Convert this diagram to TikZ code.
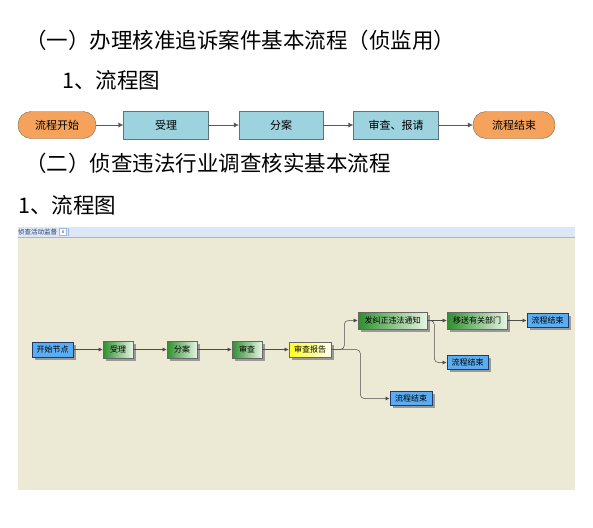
\documentclass[tikz,border=0pt]{standalone}
\usepackage{fontspec}
\setmainfont{Noto Sans CJK SC}
\usetikzlibrary{arrows.meta,shadows}
\definecolor{orangeF}{HTML}{F5A25D}
\definecolor{orangeD}{HTML}{7A6650}
\definecolor{tealF}{HTML}{9DD3DF}
\definecolor{tealD}{HTML}{5C7378}
\definecolor{panelF}{HTML}{ECEAD4}
\definecolor{tabF}{HTML}{DDE8F7}
\definecolor{tabD}{HTML}{9DB7E0}
\definecolor{blueF}{HTML}{5AADF2}
\definecolor{blueD}{HTML}{233A66}
\definecolor{greenA}{HTML}{2F8F2F}
\definecolor{greenB}{HTML}{86CC86}
\definecolor{greenC}{HTML}{E6F5E3}
\definecolor{yelA}{HTML}{FFFF20}
\definecolor{yelB}{HTML}{FFFFF0}
\tikzset{
  head/.style={anchor=west, inner sep=0pt, font=\fontsize{21.5}{21.5}\selectfont},
  term/.style={draw=orangeD, fill=orangeF, rounded corners=13pt, minimum height=27pt,
    inner sep=0pt, font=\fontsize{11}{11}\selectfont},
  proc/.style={draw=tealD, fill=tealF, minimum height=28pt, inner sep=0pt,
    font=\fontsize{11}{11}\selectfont},
  lineA/.style={draw=black!65, -{Latex[length=5pt,width=5pt]}},
  shot/.style={inner sep=0pt, font=\fontsize{8}{8}\selectfont,
    drop shadow={shadow xshift=2.5pt, shadow yshift=-2.5pt, fill=black!40, opacity=1}},
  bluebox/.style={shot, draw=blueD, line width=0.9pt, fill=blueF},
  greenbox/.style={shot, draw=black!60, line width=0.6pt, left color=greenA, middle color=greenB, right color=greenC},
  yellowbox/.style={shot, draw=black!60, line width=0.6pt, left color=yelA, right color=yelB},
  lineB/.style={draw=black!70, line width=0.5pt, rounded corners=4pt, -{Latex[length=4pt,width=4pt]}}
}
\begin{document}
\begin{tikzpicture}[x=1pt,y=-1pt]
\useasboundingbox[fill=white] (0,0) rectangle (593,527);
% headings
\node[head] (h1) at (25,40) {（一）办理核准追诉案件基本流程（侦监用）};
\node[head] (h2) at (62,80) {1、流程图};
\node[head] (h3) at (25,163) {（二）侦查违法行业调查核实基本流程};
\node[head] (h4) at (18,205) {1、流程图};
% first flowchart
\node[term, minimum width=78pt] (s1) at (57,125) {流程开始};
\node[proc, minimum width=85pt] (s2) at (166,125) {受理};
\node[proc, minimum width=84pt] (s3) at (281,125) {分案};
\node[proc, minimum width=85pt] (s4) at (396,125) {审查、报请};
\node[term, minimum width=82pt] (s5) at (514,125) {流程结束};
\draw[lineA] (s1) -- (s2);
\draw[lineA] (s2) -- (s3);
\draw[lineA] (s3) -- (s4);
\draw[lineA] (s4) -- (s5);
% screenshot panel
\fill[panelF] (18,237) rectangle (575,490);
\fill[tabF] (18,227) rectangle (575,237);
\draw[tabD] (18,237) -- (575,237);
\draw[tabD] (68,228) -- (68,236);
\node[anchor=west, inner sep=0pt, font=\fontsize{6.5}{6.5}\selectfont, text=blueD] (tab) at (18,232) {侦查活动监督};
\node[draw=tabD, fill=white, inner sep=0pt, minimum width=7pt, minimum height=7pt,
  font=\fontsize{5}{5}\selectfont, text=blueD] (tabx) at (63,232) {x};
% screenshot nodes
\node[bluebox, minimum width=41pt, minimum height=15pt] (n1) at (52.5,349.5) {开始节点};
\node[greenbox, minimum width=30pt, minimum height=17pt] (n2) at (118,349.5) {受理};
\node[greenbox, minimum width=30pt, minimum height=17pt] (n3) at (182,349.5) {分案};
\node[greenbox, minimum width=30pt, minimum height=17pt] (n4) at (247,349.5) {审查};
\node[yellowbox, minimum width=42pt, minimum height=15pt] (n5) at (310,349.5) {审查报告};
\node[greenbox, minimum width=69pt, minimum height=17pt] (n6) at (392.5,320.5) {发纠正违法通知};
\node[greenbox, minimum width=60pt, minimum height=17pt] (n7) at (477,320.5) {移送有关部门};
\node[bluebox, minimum width=41pt, minimum height=14pt] (n8) at (547.5,320.5) {流程结束};
\node[bluebox, minimum width=41pt, minimum height=14pt] (n9) at (467.5,362.5) {流程结束};
\node[bluebox, minimum width=42pt, minimum height=14pt] (n10) at (411,398.5) {流程结束};
\draw[lineB] (n1) -- (n2);
\draw[lineB] (n2) -- (n3);
\draw[lineB] (n3) -- (n4);
\draw[lineB] (n4) -- (n5);
\draw[lineB] (n5.east) -- ++(13,0) |- (n6.west);
\draw[lineB] (n5.east) -- ++(29,0) |- (n10.west);
\draw[lineB] (n6.east) -- (n7.west);
\draw[lineB] (n6.east) -- ++(7,0) |- (n9.west);
\draw[lineB] (n7.east) -- (n8.west);
\end{tikzpicture}
\end{document}
